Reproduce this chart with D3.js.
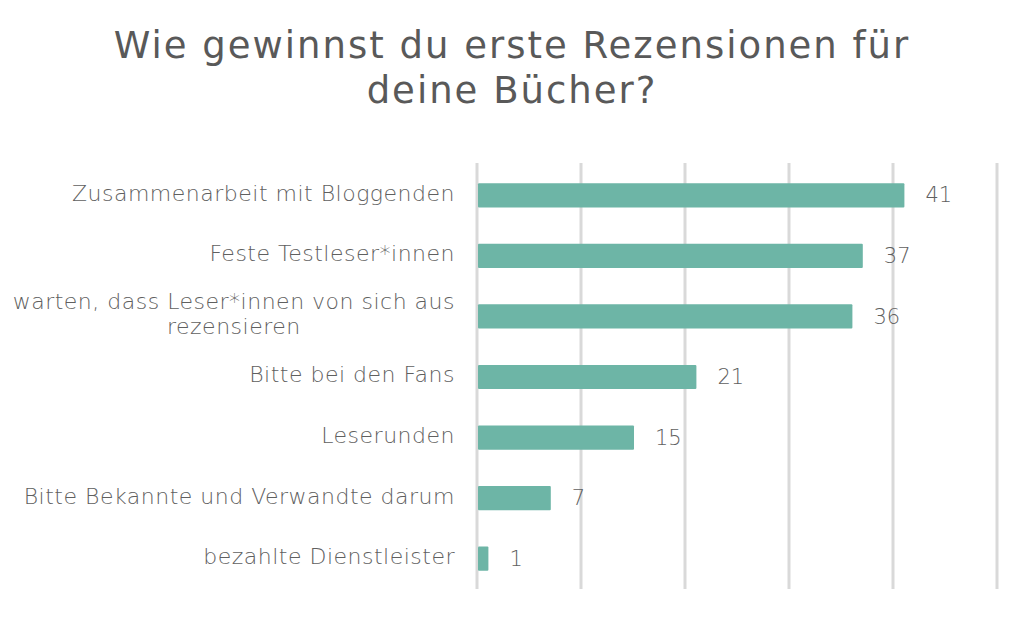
<!DOCTYPE html>
<meta charset="utf-8">
<head>
	<script src="https://d3js.org/d3.v7.min.js"></script>
	<style>
		body { margin: 0; background: #fff; }
		text { font-family: "DejaVu Sans", Lato, sans-serif; fill: #595959; }
		.title { font-size: 37px; font-weight: 400; letter-spacing: 2px; }
		.label { font-size: 22px; font-weight: 200; letter-spacing: 0.5px; fill: #606060; }
		.value { font-size: 21px; font-weight: 200; fill: #606060; }
		.grid line { stroke: #d9d9d9; stroke-width: 3px; }
	</style>
</head>
<body>
<div id="chart"></div>
<script>
	'use strict';

	// data
	var titleLines = ["Wie gewinnst du erste Rezensionen für", "deine Bücher?"];
	var categories = [
		["Zusammenarbeit mit Bloggenden"],
		["Feste Testleser*innen"],
		["warten, dass Leser*innen von sich aus", "rezensieren"],
		["Bitte bei den Fans"],
		["Leserunden"],
		["Bitte Bekannte und Verwandte darum"],
		["bezahlte Dienstleister"]
	];
	var values = [41, 37, 36, 21, 15, 7, 1];
	var gridTicks = [0, 10, 20, 30, 40, 50];

	var width = 1024, height = 622;
	var margin = { top: 165, right: 27, bottom: 33, left: 477 };
	var labelRight = 455;

	var svg = d3.select("#chart")
		.append("svg")
		.attr("width", width)
		.attr("height", height);

	// title
	svg.append("g")
		.selectAll("text")
		.data(titleLines)
		.enter()
		.append("text")
		.attr("class", "title")
		.attr("x", width / 2)
		.attr("y", function (d, i) { return 58 + i * 45; })
		.attr("text-anchor", "middle")
		.text(function (d) { return d; });

	var xscale = d3.scaleLinear()
		.domain([0, 50])
		.range([margin.left, width - margin.right]);

	var yscale = d3.scaleBand()
		.domain(d3.range(values.length))
		.range([margin.top, height - margin.bottom])
		.paddingInner(0.6)
		.paddingOuter(0.3);

	// gridlines
	svg.append("g")
		.attr("class", "grid")
		.selectAll("line")
		.data(gridTicks)
		.enter()
		.append("line")
		.attr("x1", function (d) { return xscale(d); })
		.attr("x2", function (d) { return xscale(d); })
		.attr("y1", margin.top - 2)
		.attr("y2", height - margin.bottom);

	// bars
	svg.append("g")
		.selectAll("rect")
		.data(values)
		.enter()
		.append("rect")
		.attr("x", xscale(0) + 1)
		.attr("y", function (d, i) { return yscale(i); })
		.attr("width", function (d) { return xscale(d) - xscale(0); })
		.attr("height", yscale.bandwidth())
		.attr("rx", 1)
		.attr("fill", "#6db5a6");

	// value labels
	svg.append("g")
		.selectAll("text")
		.data(values)
		.enter()
		.append("text")
		.attr("class", "value")
		.attr("x", function (d) { return xscale(d) + 22; })
		.attr("y", function (d, i) { return yscale(i) + yscale.bandwidth() / 2; })
		.attr("dy", "0.34em")
		.text(function (d) { return d; });

	// category labels
	var lineH = 25;
	var labels = svg.append("g")
		.selectAll("text")
		.data(categories)
		.enter()
		.append("text")
		.attr("class", "label")
		.attr("y", function (d, i) {
			return yscale(i) + yscale.bandwidth() / 2 - 2 - (d.length - 1) * lineH / 2;
		});

	labels.each(function (lines) {
		var t = d3.select(this);
		var first = t.append("tspan")
			.attr("x", labelRight)
			.attr("text-anchor", "end")
			.attr("dy", "0.34em")
			.text(lines[0]);
		// further lines sit centred under the first one
		var mid = labelRight - first.node().getComputedTextLength() / 2;
		lines.slice(1).forEach(function (l) {
			t.append("tspan")
				.attr("x", mid)
				.attr("text-anchor", "middle")
				.attr("dy", lineH)
				.text(l);
		});
	});
</script>
</body>
